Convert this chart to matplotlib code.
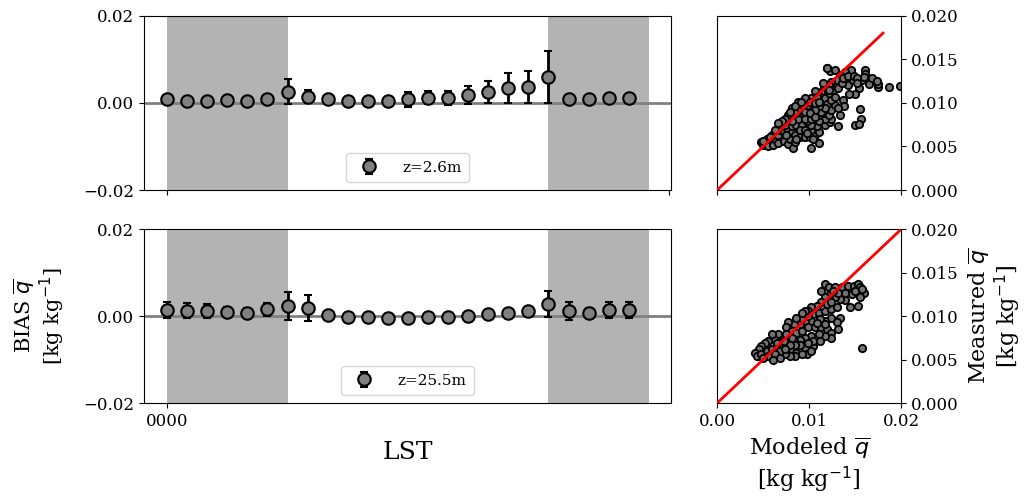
import numpy as np
from matplotlib import pyplot as plt

plt.rcParams['font.family'] = 'DejaVu Serif'

# hourly bias of mean specific humidity (kg/kg) and its spread
hours = list(range(24))
bias_low = [0.0009, 0.0005, 0.0005, 0.0006, 0.0005, 0.0008, 0.0026, 0.0014,
            0.0009, 0.0005, 0.0005, 0.0005, 0.0008, 0.0012, 0.0011, 0.0018,
            0.0025, 0.0034, 0.0037, 0.0060, 0.0009, 0.0009, 0.0010, 0.0010]
err_low = [0.0005, 0.0004, 0.0004, 0.0004, 0.0004, 0.0005, 0.0028, 0.0015,
           0.0005, 0.0004, 0.0004, 0.0004, 0.0017, 0.0015, 0.0017, 0.0021,
           0.0025, 0.0034, 0.0037, 0.0060, 0.0005, 0.0005, 0.0005, 0.0005]
bias_high = [0.0014, 0.0012, 0.0012, 0.0010, 0.0008, 0.0015, 0.0023, 0.0019,
             0.0002, -0.0002, -0.0003, -0.0005, -0.0005, -0.0003, -0.0003, 0.0001,
             0.0005, 0.0008, 0.0012, 0.0028, 0.0012, 0.0008, 0.0014, 0.0014]
err_high = [0.0019, 0.0017, 0.0016, 0.0010, 0.0010, 0.0016, 0.0033, 0.0030,
            0.0004, 0.0004, 0.0004, 0.0004, 0.0004, 0.0004, 0.0004, 0.0004,
            0.0004, 0.0004, 0.0004, 0.0030, 0.0021, 0.0010, 0.0018, 0.0018]

# modeled vs measured mean q, z=2.6m
mod_low = [0.0198, 0.0186, 0.0175, 0.0175, 0.0169, 0.0165, 0.0160, 0.0161, 0.0157, 0.0154,
           0.0150, 0.0143, 0.0142, 0.0147, 0.0145, 0.0139, 0.0137, 0.0138, 0.0133, 0.0131,
           0.0155, 0.0156, 0.0150, 0.0154, 0.0110, 0.0102, 0.0119, 0.0123, 0.0128, 0.0133,
           0.0130, 0.0124, 0.0121, 0.0116, 0.0113, 0.0115, 0.0106, 0.0111, 0.0117, 0.0122,
           0.0126, 0.0131, 0.0136, 0.0137, 0.0142, 0.0149, 0.0152, 0.0152, 0.0159, 0.0168,
           0.0173, 0.0121, 0.0048, 0.0050, 0.0054, 0.0055, 0.0059, 0.0061, 0.0063, 0.0066,
           0.0065, 0.0059, 0.0066, 0.0068, 0.0072, 0.0072, 0.0077, 0.0082, 0.0079, 0.0084,
           0.0077, 0.0081, 0.0084, 0.0090, 0.0095, 0.0101, 0.0106, 0.0111, 0.0070, 0.0074,
           0.0063, 0.0081, 0.0086, 0.0092, 0.0090, 0.0095, 0.0102, 0.0108, 0.0117, 0.0122,
           0.0124, 0.0117, 0.0110, 0.0102, 0.0097, 0.0092, 0.0088, 0.0081, 0.0075, 0.0077,
           0.0081, 0.0086, 0.0090, 0.0095, 0.0099, 0.0093, 0.0102, 0.0095, 0.0101, 0.0108,
           0.0095, 0.0102, 0.0110, 0.0115, 0.0121, 0.0124, 0.0128, 0.0131, 0.0119, 0.0124,
           0.0128, 0.0113, 0.0117, 0.0111, 0.0106, 0.0101, 0.0106, 0.0106, 0.0111, 0.0088,
           0.0084, 0.0079, 0.0074, 0.0070, 0.0066, 0.0075, 0.0086, 0.0097, 0.0104, 0.0054,
           0.0057, 0.0050, 0.0091, 0.0119]
meas_low = [0.0119, 0.0118, 0.0118, 0.0122, 0.0126, 0.0122, 0.0138, 0.0133, 0.0126, 0.0117,
            0.0110, 0.0110, 0.0120, 0.0126, 0.0138, 0.0135, 0.0103, 0.0096, 0.0086, 0.0074,
            0.0093, 0.0082, 0.0075, 0.0076, 0.0054, 0.0048, 0.0140, 0.0136, 0.0138, 0.0132,
            0.0126, 0.0124, 0.0120, 0.0117, 0.0112, 0.0123, 0.0114, 0.0108, 0.0106, 0.0110,
            0.0115, 0.0117, 0.0123, 0.0128, 0.0131, 0.0131, 0.0128, 0.0123, 0.0130, 0.0128,
            0.0125, 0.0115, 0.0055, 0.0052, 0.0053, 0.0050, 0.0057, 0.0052, 0.0059, 0.0054,
            0.0065, 0.0063, 0.0063, 0.0069, 0.0067, 0.0056, 0.0053, 0.0048, 0.0059, 0.0055,
            0.0069, 0.0067, 0.0063, 0.0061, 0.0061, 0.0061, 0.0063, 0.0067, 0.0073, 0.0075,
            0.0069, 0.0073, 0.0075, 0.0075, 0.0069, 0.0069, 0.0069, 0.0073, 0.0075, 0.0078,
            0.0082, 0.0082, 0.0079, 0.0075, 0.0079, 0.0084, 0.0082, 0.0079, 0.0080, 0.0086,
            0.0094, 0.0088, 0.0094, 0.0090, 0.0098, 0.0098, 0.0105, 0.0105, 0.0101, 0.0107,
            0.0082, 0.0082, 0.0086, 0.0088, 0.0086, 0.0092, 0.0098, 0.0094, 0.0099, 0.0103,
            0.0107, 0.0090, 0.0094, 0.0096, 0.0092, 0.0088, 0.0084, 0.0100, 0.0101, 0.0101,
            0.0096, 0.0090, 0.0082, 0.0079, 0.0077, 0.0063, 0.0059, 0.0065, 0.0059, 0.0059,
            0.0061, 0.0056, 0.0101, 0.0140]

# modeled vs measured mean q, z=25.5m
mod_high = [0.0117, 0.0121, 0.0128, 0.0135, 0.0142, 0.0148, 0.0153, 0.0155, 0.0159, 0.0155,
            0.0153, 0.0144, 0.0139, 0.0133, 0.0128, 0.0122, 0.0117, 0.0113, 0.0108, 0.0102,
            0.0099, 0.0104, 0.0110, 0.0117, 0.0124, 0.0130, 0.0133, 0.0124, 0.0117, 0.0112,
            0.0102, 0.0095, 0.0090, 0.0083, 0.0077, 0.0075, 0.0081, 0.0086, 0.0092, 0.0099,
            0.0106, 0.0113, 0.0119, 0.0124, 0.0131, 0.0124, 0.0117, 0.0110, 0.0102, 0.0095,
            0.0090, 0.0083, 0.0077, 0.0070, 0.0066, 0.0063, 0.0059, 0.0055, 0.0052, 0.0048,
            0.0045, 0.0041, 0.0043, 0.0048, 0.0054, 0.0059, 0.0065, 0.0070, 0.0075, 0.0081,
            0.0086, 0.0095, 0.0104, 0.0097, 0.0092, 0.0084, 0.0079, 0.0074, 0.0068, 0.0063,
            0.0055, 0.0050, 0.0157, 0.0146, 0.0150, 0.0157, 0.0139, 0.0131, 0.0126, 0.0113,
            0.0119, 0.0124, 0.0092, 0.0086, 0.0099, 0.0081, 0.0075, 0.0072, 0.0065, 0.0104,
            0.0112, 0.0099, 0.0090, 0.0084, 0.0079, 0.0074, 0.0068, 0.0061, 0.0102, 0.0117,
            0.0130, 0.0108, 0.0095, 0.0092]
meas_high = [0.0137, 0.0133, 0.0133, 0.0133, 0.0135, 0.0135, 0.0137, 0.0133, 0.0127, 0.0122,
             0.0112, 0.0110, 0.0118, 0.0120, 0.0122, 0.0125, 0.0122, 0.0116, 0.0112, 0.0110,
             0.0106, 0.0102, 0.0104, 0.0106, 0.0108, 0.0110, 0.0098, 0.0098, 0.0094, 0.0096,
             0.0094, 0.0094, 0.0091, 0.0091, 0.0093, 0.0087, 0.0083, 0.0081, 0.0083, 0.0087,
             0.0087, 0.0087, 0.0085, 0.0081, 0.0085, 0.0075, 0.0077, 0.0079, 0.0077, 0.0075,
             0.0073, 0.0071, 0.0073, 0.0077, 0.0079, 0.0073, 0.0079, 0.0071, 0.0069, 0.0065,
             0.0062, 0.0058, 0.0054, 0.0056, 0.0060, 0.0062, 0.0065, 0.0067, 0.0065, 0.0062,
             0.0058, 0.0063, 0.0065, 0.0056, 0.0056, 0.0054, 0.0054, 0.0056, 0.0060, 0.0056,
             0.0054, 0.0052, 0.0063, 0.0125, 0.0129, 0.0131, 0.0127, 0.0127, 0.0129, 0.0129,
             0.0114, 0.0116, 0.0098, 0.0098, 0.0100, 0.0075, 0.0079, 0.0071, 0.0069, 0.0071,
             0.0071, 0.0069, 0.0067, 0.0067, 0.0067, 0.0062, 0.0052, 0.0050, 0.0060, 0.0091,
             0.0093, 0.0092, 0.0106, 0.0104]

labels = ['z=2.6m', 'z=25.5m']
bias = [bias_low, bias_high]
errs = [err_low, err_high]
modeled = [mod_low, mod_high]
measured = [meas_low, meas_high]
one_to_one = [[0, 0.018], [0, 0.02]]

fig = plt.figure(figsize=(10.29, 4.97), dpi=100)
rows = [(0.6177, 0.3507), (0.1891, 0.3501)]

for i, (bottom, height) in enumerate(rows):
    ax = fig.add_axes([0.140, bottom, 0.512, height])
    ax.axvspan(0, 6, color='0.7', lw=0)
    ax.axvspan(19, 24, color='0.7', lw=0)
    ax.axhline(0, color='gray', lw=2, zorder=1)
    ax.errorbar(hours, bias[i], yerr=errs[i], fmt='o', color='k', mfc='gray',
                mec='k', ms=9, mew=1.5, elinewidth=2, capsize=3, capthick=2,
                label=labels[i], zorder=3)
    ax.set_xlim(-1.15, 25.1)
    ax.set_ylim(-0.02, 0.02)
    ax.set_yticks([-0.02, 0, 0.02])
    ax.tick_params(labelsize=12)
    ax.legend(loc='lower center', fontsize=11, handletextpad=1.2, borderpad=0.5)
    if i == 0:
        ax.set_xticks([0, 25])
        ax.set_xticklabels(['', ''])
    else:
        ax.set_xticks([0])
        ax.set_xticklabels(['0000'])
        ax.set_xlabel('LST', fontsize=18, labelpad=8)
        ax.set_ylabel('BIAS $\\overline{q}$\n[kg kg$^{-1}$]', fontsize=15,
                      labelpad=12, linespacing=1.0)

    sc = fig.add_axes([0.697, bottom, 0.179, height])
    sc.scatter(modeled[i], measured[i], s=28, c='0.45', edgecolors='k',
               linewidths=1.3, zorder=2)
    sc.plot(one_to_one[i], one_to_one[i], color='red', lw=2, zorder=3)
    sc.set_xlim(0, 0.02)
    sc.set_ylim(0, 0.02)
    sc.set_xticks([0, 0.01, 0.02])
    sc.set_yticks([0, 0.005, 0.01, 0.015, 0.02])
    sc.yaxis.tick_right()
    sc.yaxis.set_label_position('right')
    sc.tick_params(labelsize=12)
    if i == 0:
        sc.set_xticklabels(['', '', ''])
    else:
        sc.set_xticklabels(['0.00', '0.01', '0.02'])
        sc.set_xlabel('Modeled $\\overline{q}$\n[kg kg$^{-1}$]', fontsize=16)
        sc.set_ylabel('Measured $\\overline{q}$\n[kg kg$^{-1}$]', fontsize=16,
                      labelpad=6, linespacing=1.0)

fig.savefig('out.png', dpi=100)
